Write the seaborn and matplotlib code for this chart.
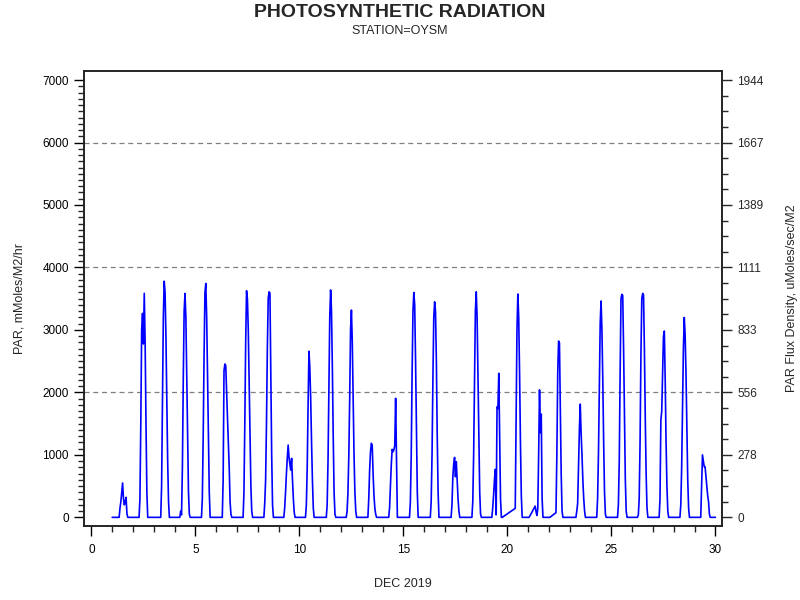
import numpy as np
import pandas as pd
import seaborn as sns
import matplotlib.pyplot as plt
from matplotlib.ticker import MultipleLocator, FixedLocator

# hourly PAR readings, mMoles/M2/hr, station OYSM, Dec 2019
# each row = one day (Dec 1 .. Dec 29), values for hours 6..19, night hours read as 0
light_hours = list(range(6, 20))
par_by_day = [
    [0, 0, 0, 150, 250, 400, 550, 300, 200, 250, 320, 60, 0, 0],            # 1
    [0, 0, 300, 1500, 3000, 3265, 2775, 3585, 2800, 1500, 400, 0, 0, 0],    # 2
    [0, 0, 0, 500, 1800, 3200, 3780, 3600, 2900, 1900, 900, 250, 0, 0],     # 3
    [0, 100, 40, 800, 2200, 3300, 3585, 3200, 2300, 1300, 400, 50, 0, 0],   # 4
    [0, 0, 300, 1300, 2600, 3600, 3745, 3200, 2300, 1300, 400, 0, 0, 0],    # 5
    [0, 0, 600, 2350, 2455, 2430, 2000, 1600, 1200, 800, 250, 50, 0, 0],    # 6
    [0, 0, 400, 1500, 2800, 3627, 3500, 3000, 2200, 1300, 500, 100, 0, 0],  # 7
    [0, 0, 230, 600, 1500, 2700, 3500, 3610, 3590, 2300, 1000, 200, 0, 0],  # 8
    [0, 150, 400, 700, 950, 1157, 960, 850, 757, 945, 600, 300, 80, 0],     # 9
    [0, 0, 200, 800, 1800, 2660, 2400, 1900, 1200, 600, 150, 0, 0, 0],      # 10
    [0, 0, 200, 900, 2100, 3200, 3640, 3300, 2400, 1300, 400, 50, 0, 0],    # 11
    [0, 100, 400, 1000, 1900, 3000, 3318, 2800, 1900, 1000, 400, 100, 0, 0],# 12
    [0, 0, 300, 750, 1050, 1185, 1150, 700, 350, 150, 50, 0, 0, 0],         # 13
    [0, 0, 150, 500, 850, 1088, 1050, 1080, 1150, 1905, 1000, 0, 0, 0],     # 14
    [0, 0, 250, 1000, 2300, 3300, 3600, 3400, 2500, 1400, 400, 0, 0, 0],    # 15
    [0, 0, 250, 1000, 2200, 3200, 3450, 3300, 2500, 1300, 400, 0, 0, 0],    # 16
    [0, 0, 200, 650, 850, 960, 650, 890, 600, 300, 100, 0, 0, 0],           # 17
    [0, 0, 250, 1000, 2200, 3300, 3610, 3200, 2300, 1300, 400, 50, 0, 0],   # 18
    [0, 150, 350, 600, 768, 40, 1770, 1740, 2305, 1300, 300, 0, 0, 0],      # 19
    [0, 0, 0, 144, 1500, 3000, 3575, 3200, 2300, 1200, 350, 0, 0, 0],       # 20
    [0, 0, 180, 90, 30, 140, 1000, 2040, 1355, 1653, 300, 0, 0, 0],         # 21
    [0, 0, 75, 1000, 2300, 2822, 2790, 1800, 700, 100, 0, 0, 0, 0],         # 22
    [0, 0, 100, 224, 800, 1400, 1813, 1345, 1000, 600, 300, 100, 0, 0],     # 23
    [0, 0, 300, 1000, 2100, 3100, 3463, 3000, 2200, 1200, 400, 50, 0, 0],   # 24
    [0, 0, 200, 900, 2300, 3500, 3570, 3550, 2700, 1600, 600, 100, 0, 0],   # 25
    [0, 40, 300, 1200, 2600, 3500, 3585, 3560, 2700, 1600, 700, 150, 0, 0], # 26
    [0, 0, 300, 1550, 1700, 2300, 2900, 2982, 2200, 1200, 500, 100, 0, 0],  # 27
    [0, 0, 200, 800, 1800, 2700, 3200, 2920, 2300, 1400, 600, 150, 0, 0],   # 28
    [0, 0, 500, 1000, 900, 810, 810, 650, 500, 350, 250, 50, 0, 0],         # 29
]

# logger outages (day of month), no records inside -> line joins across
gap_start = [19.78, 21.07, 22.07]
gap_end = [20.35, 21.32, 22.32]

yticks_left = [0, 1000, 2000, 3000, 4000, 5000, 6000, 7000]
ylabels_right = ['0', '278', '556', '833', '1111', '1389', '1667', '1944']
grid_levels = [2000, 4000, 6000]

# build the hourly series
rows = []
for d, vals in enumerate(par_by_day, start=1):
    for h in range(24):
        v = vals[h - light_hours[0]] if h in light_hours else 0
        rows.append((d + h / 24.0, v))
rows.append((30.0, 0))
df = pd.DataFrame(rows, columns=['day', 'par'])
for s, e in zip(gap_start, gap_end):
    df = df[~((df.day > s) & (df.day < e))]

sns.set_style("ticks")
plt.rcParams['font.family'] = ['Liberation Sans', 'DejaVu Sans']

fig = plt.figure(figsize=(8, 6), dpi=100)
ax = fig.add_axes([0.1054, 0.1238, 0.797, 0.7583])

sns.lineplot(data=df, x='day', y='par', ax=ax, color='#0000ff', linewidth=1.2,
             estimator=None, sort=False)

for g in grid_levels:
    ax.axhline(g, color='#808080', linestyle=(0, (4, 3)), linewidth=0.9, zorder=0)

ylo, yhi = -134, 7149
ax.set_xlim(-0.34, 30.31)
ax.set_ylim(ylo, yhi)

ax.xaxis.set_major_locator(FixedLocator([0, 5, 10, 15, 20, 25, 30]))
ax.xaxis.set_minor_locator(FixedLocator(list(range(0, 31))))
ax.yaxis.set_major_locator(FixedLocator(yticks_left))
ax.yaxis.set_minor_locator(FixedLocator(list(range(0, 7001, 100))))

for sp in ax.spines.values():
    sp.set_linewidth(1.1)
    sp.set_color('black')
ax.tick_params(which='major', length=7, width=1.0, labelsize=8.5, pad=4, colors='black')
ax.tick_params(axis='x', which='major', pad=6)
ax.tick_params(which='minor', length=4, width=1.0)

ax.set_xlabel('DEC 2019', fontsize=9, labelpad=16)
ax.set_ylabel('PAR, mMoles/M2/hr', fontsize=9, labelpad=12)

# right axis in uMoles/sec/M2 (1000 mMoles/hr = 277.8 uMoles/sec)
ax2 = ax.twinx()
ax2.set_ylim(ylo / 3.6, yhi / 3.6)
ax2.yaxis.set_major_locator(FixedLocator([v / 3.6 for v in yticks_left]))
ax2.set_yticklabels(ylabels_right)
ax2.yaxis.set_minor_locator(FixedLocator([v / 3.6 for v in range(0, 7001, 250)]))
ax2.tick_params(which='major', length=7, width=1.0, labelsize=8.5, pad=4)
ax2.tick_params(which='minor', length=4, width=1.0)
ax2.set_ylabel('PAR Flux Density, uMoles/sec/M2', fontsize=9, labelpad=16)
for sp in ax2.spines.values():
    sp.set_linewidth(1.1)

fig.text(0.5, 0.979, 'PHOTOSYNTHETIC RADIATION', ha='center', va='center',
         fontsize=14, fontweight='bold')
fig.text(0.5, 0.949, 'STATION=OYSM', ha='center', va='center', fontsize=9)

fig.savefig('out.png', dpi=100)
